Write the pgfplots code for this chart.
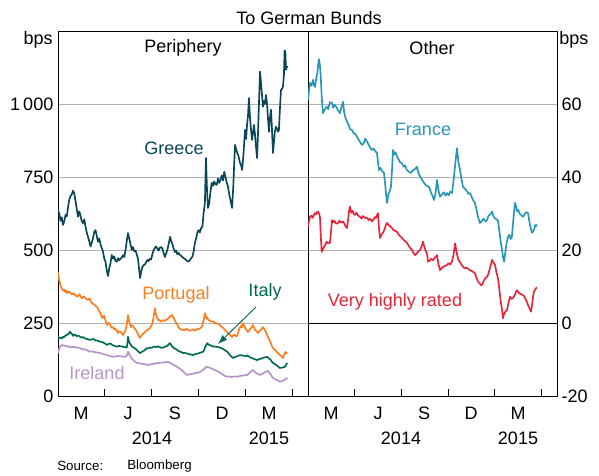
\documentclass[border=0pt]{standalone}
\usepackage{pgfplots}
\pgfplotsset{compat=1.18}
\usepackage{fontspec}
\setmainfont{Liberation Sans}
\usetikzlibrary{arrows.meta}
\definecolor{greece}{RGB}{8,70,88}
\definecolor{portugal}{RGB}{255,125,30}
\definecolor{italy}{RGB}{0,106,80}
\definecolor{ireland}{RGB}{182,148,202}
\definecolor{france}{RGB}{40,150,185}
\definecolor{vhr}{RGB}{232,36,56}
\newcommand\lbl{\fontsize{13.5}{16}\selectfont}
\pgfplotsset{panel/.style={
  scale only axis, width=187.5pt, height=273.75pt,
  xmin=0, xmax=16, xtick={3,6,9,12,15}, xticklabels={},
  xtick pos=left, xtick align=inside, major tick length=5pt,
  xtick style={draw=black, line width=0.7pt},
  ytick style={draw=none},
  axis line style={line width=0.7pt},
  ymajorgrids, grid style={line width=0.6pt, color=black!30},
  tick label style={font=\lbl},
  every axis plot/.append style={line width=1.25pt, mark=none, line join=round},
  clip=true}}
\pgfplotstableread{
m v
0.00 637
0.08 625
0.16 600
0.24 612
0.32 586
0.40 598
0.48 620
0.56 615
0.64 645
0.72 672
0.80 685
0.88 690
0.96 703
1.04 695
1.12 668
1.20 640
1.28 614
1.36 632
1.44 618
1.52 598
1.60 592
1.68 605
1.76 580
1.84 560
1.92 545
2.00 530
2.08 512
2.16 525
2.24 540
2.32 562
2.40 568
2.48 548
2.56 528
2.64 540
2.72 520
2.80 507
2.88 495
2.96 470
3.04 460
3.12 430
3.20 411
3.28 438
3.36 455
3.44 483
3.52 470
3.60 478
3.68 462
3.76 460
3.84 472
3.92 465
4.00 470
4.08 473
4.16 482
4.24 476
4.32 500
4.40 530
4.48 558
4.56 540
4.64 520
4.72 500
4.80 510
4.88 495
4.96 498
5.04 485
5.12 470
5.20 430
5.25 404
5.32 425
5.40 442
5.48 448
5.56 450
5.64 458
5.72 466
5.80 462
5.88 470
5.96 468
6.04 485
6.12 500
6.20 507
6.28 512
6.36 505
6.44 498
6.52 508
6.60 510
6.68 505
6.76 490
6.84 476
6.92 488
7.00 500
7.08 520
7.17 545
7.24 532
7.32 520
7.40 505
7.48 493
7.56 498
7.64 485
7.72 490
7.80 483
7.88 480
7.96 476
8.04 472
8.12 470
8.20 465
8.28 462
8.36 460
8.44 466
8.52 472
8.60 477
8.68 495
8.76 524
8.84 540
8.92 560
9.00 568
9.08 560
9.16 575
9.24 580
9.32 627
9.40 660
9.47 815
9.54 700
9.60 644
9.68 660
9.76 700
9.84 730
9.92 720
10.00 735
10.08 725
10.16 723
10.24 745
10.32 730
10.40 740
10.48 755
10.56 738
10.64 768
10.72 750
10.80 730
10.88 717
10.96 690
11.04 670
11.14 644
11.22 720
11.28 800
11.33 860
11.40 845
11.48 832
11.56 820
11.64 800
11.72 790
11.78 774
11.86 820
11.92 870
11.97 911
12.04 880
12.10 930
12.16 960
12.22 1020
12.28 960
12.34 920
12.42 877
12.48 900
12.54 928
12.60 900
12.66 860
12.74 815
12.80 900
12.86 1000
12.93 1111
12.98 1080
13.04 1040
13.12 991
13.18 1010
13.24 1000
13.31 1031
13.38 1000
13.44 950
13.50 905
13.56 950
13.63 980
13.68 930
13.72 880
13.76 832
13.82 870
13.88 905
13.95 922
14.02 915
14.08 905
14.14 911
14.20 980
14.27 1048
14.34 1052
14.40 1060
14.46 1100
14.50 1183
14.55 1180
14.59 1117
14.64 1125
14.68 1130
}\greece
\pgfplotstableread{
m v
0.00 425
0.05 405
0.10 392
0.16 378
0.22 370
0.28 366
0.34 360
0.40 364
0.46 356
0.52 360
0.60 352
0.68 358
0.77 355
0.84 350
0.90 348
0.98 352
1.09 346
1.17 343
1.25 340
1.33 348
1.41 345
1.47 338
1.53 335
1.62 340
1.70 338
1.80 333
1.92 329
2.00 334
2.05 332
2.12 322
2.18 318
2.26 315
2.35 312
2.42 308
2.50 305
2.58 296
2.65 290
2.74 280
2.82 267
2.88 272
2.95 275
3.04 258
3.14 243
3.22 250
3.30 248
3.38 238
3.46 233
3.54 236
3.60 228
3.68 230
3.74 225
3.84 216
3.92 222
4.00 220
4.08 214
4.16 209
4.24 218
4.32 225
4.40 245
4.48 277
4.55 255
4.62 245
4.67 236
4.74 242
4.80 240
4.88 232
4.93 230
5.02 222
5.10 215
5.18 205
5.25 199
5.32 206
5.40 210
5.48 215
5.57 219
5.64 224
5.70 225
5.80 230
5.89 233
5.96 240
6.04 248
6.10 265
6.16 285
6.21 301
6.26 282
6.32 270
6.40 260
6.48 262
6.56 256
6.64 255
6.72 260
6.85 257
6.92 262
7.00 262
7.08 268
7.15 270
7.22 275
7.30 277
7.36 270
7.42 265
7.49 257
7.56 250
7.64 245
7.70 235
7.80 230
7.94 226
8.02 228
8.10 225
8.20 230
8.30 228
8.40 224
8.50 224
8.60 228
8.70 226
8.80 224
8.90 230
9.00 228
9.10 232
9.20 236
9.30 255
9.36 270
9.40 284
9.46 275
9.50 265
9.56 268
9.60 262
9.70 258
9.80 255
9.90 256
9.98 253
10.08 250
10.20 248
10.28 246
10.37 243
10.48 236
10.60 232
10.70 225
10.82 219
10.92 214
11.00 210
11.08 205
11.14 202
11.22 208
11.30 210
11.38 205
11.46 206
11.54 218
11.60 230
11.70 240
11.78 236
11.84 250
11.92 240
12.00 230
12.08 226
12.16 219
12.24 225
12.30 230
12.40 236
12.48 243
12.54 235
12.60 228
12.70 222
12.80 216
12.90 222
13.00 228
13.06 232
13.12 236
13.20 228
13.30 220
13.38 210
13.44 202
13.52 192
13.60 185
13.68 172
13.76 164
13.84 160
13.95 155
14.02 150
14.08 147
14.16 142
14.25 138
14.32 135
14.40 130
14.46 140
14.50 145
14.56 151
14.62 146
14.68 147
}\portugal
\pgfplotstableread{
m v
0.00 203
0.08 198
0.16 200
0.24 197
0.32 203
0.40 202
0.50 208
0.60 210
0.70 214
0.77 220
0.84 215
0.90 212
0.96 206
1.04 210
1.10 210
1.20 205
1.30 207
1.41 203
1.50 200
1.60 202
1.70 198
1.80 196
1.92 194
2.05 192
2.15 194
2.30 195
2.40 190
2.50 190
2.60 188
2.69 186
2.80 185
2.90 183
3.00 180
3.14 175
3.24 178
3.30 180
3.40 178
3.50 174
3.60 172
3.70 170
3.78 169
3.90 172
4.00 170
4.10 170
4.20 168
4.30 167
4.40 166
4.44 180
4.48 203
4.54 188
4.60 180
4.67 175
4.74 169
4.84 166
4.92 163
5.00 160
5.10 154
5.18 150
5.25 147
5.34 150
5.42 153
5.50 155
5.60 160
5.70 164
5.80 163
5.90 166
6.00 165
6.10 168
6.21 169
6.30 167
6.40 170
6.50 168
6.60 165
6.72 166
6.82 168
6.92 170
7.00 172
7.10 178
7.17 181
7.24 175
7.30 170
7.40 165
7.50 162
7.62 158
7.70 155
7.80 152
7.90 150
8.00 147
8.10 148
8.20 146
8.30 145
8.40 143
8.52 142
8.64 140
8.76 143
8.90 145
9.00 146
9.10 148
9.20 150
9.30 152
9.36 158
9.40 165
9.46 172
9.52 178
9.56 181
9.62 176
9.70 175
9.80 172
9.92 169
10.00 170
10.10 169
10.20 168
10.30 167
10.37 166
10.48 163
10.60 160
10.70 156
10.82 152
10.90 148
11.00 140
11.10 135
11.20 130
11.30 133
11.40 135
11.50 137
11.65 140
11.75 139
11.90 138
12.00 136
12.10 139
12.16 137
12.28 133
12.40 130
12.50 128
12.60 126
12.74 123
12.86 126
13.00 128
13.10 130
13.20 132
13.30 133
13.38 134
13.46 130
13.54 127
13.60 125
13.68 118
13.76 113
13.86 110
14.00 105
14.10 100
14.20 96
14.30 97
14.40 98
14.47 99
14.53 100
14.60 108
14.68 113
}\italy
\pgfplotstableread{
m v
0.00 147
0.05 158
0.10 165
0.18 172
0.26 175
0.34 172
0.42 173
0.50 170
0.60 171
0.70 168
0.77 169
0.88 167
1.00 168
1.10 168
1.22 165
1.30 166
1.41 164
1.55 160
1.68 160
1.80 158
1.92 155
2.05 152
2.15 153
2.30 151
2.40 150
2.55 149
2.69 147
2.85 145
3.00 142
3.15 140
3.30 137
3.50 134
3.65 135
3.80 137
4.00 136
4.15 135
4.30 134
4.40 138
4.45 145
4.48 152
4.56 144
4.64 136
4.70 130
4.80 124
4.92 118
5.00 115
5.10 113
5.25 112
5.40 110
5.55 109
5.65 108
5.76 106
5.90 108
6.00 109
6.10 110
6.25 112
6.40 113
6.55 114
6.70 115
6.80 115
6.92 116
7.04 117
7.15 114
7.30 110
7.45 105
7.62 100
7.75 95
7.90 90
8.00 84
8.12 78
8.26 72
8.40 74
8.50 75
8.60 76
8.75 78
8.90 79
9.05 82
9.20 86
9.30 90
9.40 95
9.48 100
9.54 100
9.65 98
9.80 95
9.95 91
10.05 88
10.18 86
10.30 82
10.40 79
10.50 75
10.65 70
10.82 66
10.95 67
11.10 65
11.20 66
11.35 67
11.46 66
11.60 68
11.70 69
11.80 70
11.95 71
12.10 72
12.20 76
12.30 82
12.40 86
12.48 89
12.56 84
12.64 80
12.70 78
12.80 75
12.93 72
13.05 76
13.20 80
13.30 83
13.44 86
13.52 80
13.60 75
13.68 68
13.76 62
13.88 58
14.00 55
14.10 52
14.20 49
14.30 50
14.40 52
14.50 55
14.60 59
14.68 62
}\ireland
\pgfplotstableread{
m v
0.00 61.1
0.06 63.5
0.13 65.8
0.22 65.0
0.32 66.6
0.38 65.2
0.45 64.7
0.52 66.8
0.60 68.5
0.66 71.0
0.71 72.3
0.76 70.8
0.82 67.5
0.88 62.0
0.96 57.5
1.04 58.2
1.12 58.8
1.20 59.3
1.30 58.6
1.40 60.5
1.54 60.3
1.62 59.0
1.72 59.8
1.86 58.9
1.96 58.0
2.06 57.5
2.14 59.0
2.25 60.6
2.32 57.8
2.42 56.0
2.51 55.2
2.60 54.4
2.72 53.0
2.83 52.9
2.92 52.0
3.04 51.8
3.15 51.0
3.26 50.2
3.36 49.5
3.47 48.8
3.58 49.2
3.68 50.5
3.79 49.7
3.90 48.8
4.00 48.0
4.11 47.4
4.22 47.8
4.34 47.0
4.43 46.6
4.50 44.0
4.56 41.9
4.66 42.5
4.76 41.6
4.88 41.1
4.96 38.0
5.02 35.0
5.08 32.9
5.16 35.2
5.24 36.0
5.33 37.3
5.40 42.0
5.46 47.4
5.54 46.2
5.62 46.8
5.72 45.6
5.82 44.8
5.92 44.0
6.04 43.8
6.14 42.8
6.24 43.2
6.34 42.0
6.46 41.5
6.62 41.1
6.72 41.8
6.82 42.0
6.92 42.4
7.00 42.8
7.10 41.0
7.20 40.2
7.33 39.2
7.44 38.5
7.56 37.8
7.66 37.5
7.78 37.3
7.88 36.0
8.00 34.8
8.10 33.7
8.20 35.6
8.29 39.2
8.38 36.4
8.48 34.6
8.60 35.2
8.72 35.8
8.84 34.9
8.93 35.6
9.04 35.0
9.14 36.0
9.25 35.6
9.32 37.8
9.38 40.1
9.46 43.5
9.52 46.0
9.58 47.9
9.66 44.2
9.77 41.9
9.86 39.5
9.96 37.3
10.08 36.8
10.20 36.2
10.30 35.4
10.41 35.6
10.52 34.5
10.62 33.6
10.73 32.9
10.84 30.8
10.94 28.8
11.05 27.4
11.16 27.9
11.28 28.6
11.40 27.8
11.50 28.2
11.60 29.4
11.72 29.8
11.83 30.5
11.92 29.2
12.02 28.6
12.12 28.4
12.21 28.0
12.30 25.0
12.38 22.2
12.47 20.0
12.53 18.0
12.60 16.8
12.68 19.5
12.76 21.8
12.85 23.6
12.94 24.2
13.02 23.0
13.10 23.6
13.18 27.5
13.24 30.5
13.30 32.9
13.38 31.8
13.44 30.6
13.50 31.0
13.60 30.0
13.70 29.5
13.82 29.1
13.92 29.8
14.02 30.4
14.14 30.1
14.22 28.0
14.30 26.0
14.40 24.7
14.48 25.2
14.54 25.8
14.59 26.8
14.65 26.5
14.70 27.0
}\france
\pgfplotstableread{
m v
0.00 26.4
0.06 27.8
0.13 29.1
0.22 29.4
0.30 28.8
0.38 29.6
0.45 30.1
0.52 29.7
0.58 30.4
0.64 30.5
0.71 30.0
0.77 29.0
0.82 24.0
0.88 19.5
0.96 20.2
1.04 21.0
1.12 21.5
1.20 22.3
1.30 21.8
1.41 22.0
1.48 25.0
1.54 28.2
1.62 27.6
1.70 28.0
1.80 27.2
1.93 27.4
2.02 28.0
2.12 27.5
2.25 27.8
2.34 27.2
2.42 26.5
2.51 26.0
2.58 28.5
2.64 30.8
2.70 31.9
2.78 30.2
2.86 30.8
2.94 29.8
3.02 29.6
3.12 30.2
3.22 29.4
3.34 29.1
3.44 28.6
3.54 29.3
3.66 28.8
3.79 28.8
3.90 28.2
4.00 28.6
4.11 27.8
4.22 28.4
4.30 29.0
4.37 28.8
4.44 29.6
4.50 30.1
4.56 26.0
4.63 23.3
4.72 24.2
4.82 24.7
4.90 25.5
5.00 26.8
5.08 27.4
5.18 26.8
5.28 26.5
5.40 26.0
5.50 25.4
5.62 25.2
5.72 25.0
5.82 24.2
5.92 23.8
6.04 23.3
6.14 22.8
6.24 22.4
6.36 22.0
6.46 21.2
6.56 20.6
6.68 20.0
6.78 19.2
6.88 18.6
6.98 19.0
7.08 19.6
7.20 20.0
7.30 21.0
7.39 22.3
7.48 20.8
7.56 19.8
7.65 19.0
7.71 16.8
7.80 17.0
7.92 17.6
8.03 17.2
8.14 17.9
8.22 18.2
8.29 18.6
8.38 16.2
8.48 14.5
8.58 15.0
8.68 15.4
8.80 15.6
8.93 15.9
9.04 16.4
9.14 16.0
9.25 16.8
9.34 18.5
9.40 20.2
9.45 21.8
9.54 19.5
9.64 17.7
9.74 16.8
9.86 16.0
9.96 15.4
10.06 15.0
10.18 15.2
10.30 14.8
10.41 14.5
10.52 14.2
10.62 14.0
10.73 13.6
10.82 12.4
10.93 11.3
11.04 10.8
11.10 10.4
11.18 10.4
11.28 11.5
11.38 12.2
11.48 12.6
11.57 13.2
11.66 14.5
11.75 16.0
11.83 17.3
11.92 16.5
12.02 15.9
12.10 14.0
12.21 12.2
12.30 9.0
12.38 6.0
12.47 3.6
12.53 1.3
12.60 2.5
12.70 3.2
12.79 3.6
12.88 5.5
12.98 7.2
13.06 6.6
13.17 6.8
13.28 7.6
13.36 8.5
13.43 9.0
13.52 8.4
13.62 8.0
13.74 7.8
13.88 7.4
14.00 6.4
14.08 5.6
14.14 4.9
14.24 4.0
14.33 3.1
14.40 5.0
14.46 7.2
14.52 8.6
14.60 9.2
14.70 9.8
}\vhr
\begin{document}
\begin{tikzpicture}
\path[use as bounding box] (0,0) rectangle (449.25pt,356.25pt);
\begin{axis}[panel, at={(43.5pt,59.25pt)}, anchor=south west,
  ymin=0, ymax=1250, ytick={0,250,500,750,1000},
  yticklabels={0,250,500,750,1\,000}, ytick pos=left]
\addplot[greece] table[x=m,y=v] {\greece};
\addplot[portugal] table[x=m,y=v] {\portugal};
\addplot[ireland] table[x=m,y=v] {\ireland};
\addplot[italy] table[x=m,y=v] {\italy};
\end{axis}
\begin{axis}[panel, at={(231pt,59.25pt)}, anchor=south west, width=186.75pt,
  ymin=-20, ymax=80, ytick={-20,20,40,60},
  yticklabels={-20,20,40,60}, ytick pos=right,
  extra y ticks={0}, extra y tick labels={0},
  extra y tick style={grid=major, major grid style={black, line width=0.7pt}}]
\addplot[france] table[x=m,y=v] {\france};
\addplot[vhr] table[x=m,y=v] {\vhr};
\end{axis}
\begin{scope}[x=0.75pt, y=-0.75pt, yshift=356.25pt, every node/.style={inner sep=0pt, font=\lbl}]
\node at (309,18) {To German Bunds};
\node[anchor=east] at (53,40) {bps};
\node[anchor=west] at (559,40) {bps};
\node at (183,48) {Periphery};
\node at (432,48) {Other};
% quarter labels
\foreach \xx/\t in {81/M,128/J,175/S,222/D,269/M,331/M,378/J,424/S,471/D,518/M}{\node at (\xx,413) {\t};}
\node at (152,438) {2014};
\node at (269,438) {2015};
\node at (401,438) {2014};
\node at (518,438) {2015};
% series labels
\node[text=greece] at (174,148) {Greece};
\node[text=portugal] at (176,295) {Portugal};
\node[text=italy] at (265,292) {Italy};
\node[text=ireland] at (97,373) {Ireland};
\node[text=france] at (423,129) {France};
\node[text=vhr] at (395,302) {Very highly rated};
\draw[italy, line width=0.7pt, -{Latex[length=7pt,width=5pt]}] (256,307) -- (218,344);
\node[anchor=west, font=\fontsize{10}{12}\selectfont] at (57,466) {Source:};
\node[anchor=west, font=\fontsize{10}{12}\selectfont] at (127,466) {Bloomberg};
\end{scope}
\end{tikzpicture}
\end{document}
